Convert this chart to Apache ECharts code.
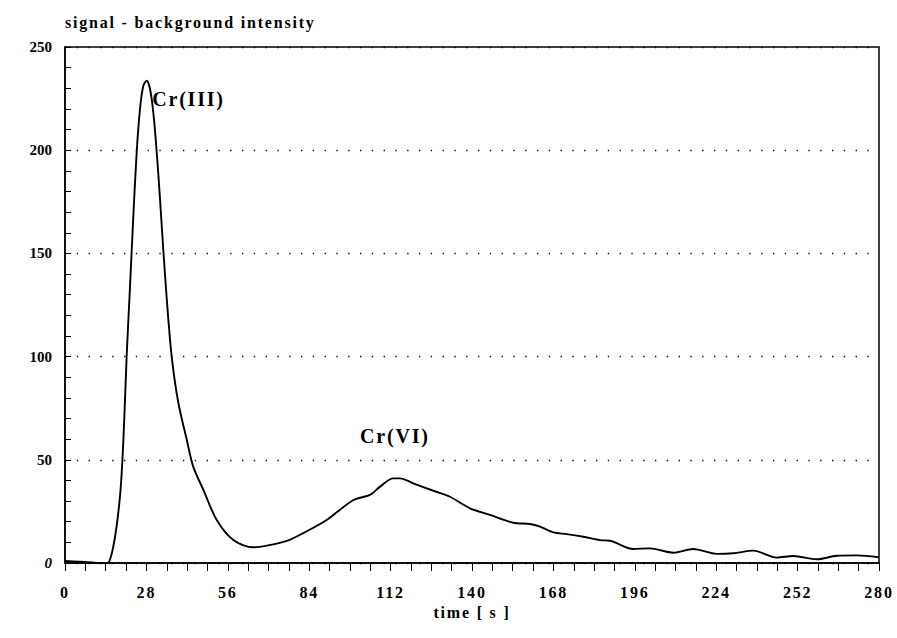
<!DOCTYPE html>
<html>
<head>
<meta charset="utf-8">
<script src="https://cdn.jsdelivr.net/npm/echarts@6/dist/echarts.min.js"></script>
<style>
  html, body { margin: 0; padding: 0; background: #fff; }
  #chart { width: 897px; height: 638px; }
  /* the scanned lettering is set wide, except the y tick numbers */
  #chart text { letter-spacing: 1.8px; }
  #chart text[text-anchor="end"] { letter-spacing: 0; }
</style>
</head>
<body>
<div id="chart"></div>
<script>
// time [s] and signal - background intensity
const times = [0, 5, 10, 14.3, 16.6, 18.9, 20.1, 21.2, 22.4, 23.5, 24.7, 25.8, 26.9, 28.1, 29.2, 30.4, 31.5, 32.7, 33.8, 35,
  36.7, 39, 41.9, 44.1, 47.6, 52.2, 57.9, 64.8, 69.4, 76.3, 82, 90, 99.2, 104.9, 108.4, 112.9, 115.2, 119.8, 126.7, 132.4,
  139.3, 146.2, 154.2, 160, 163.4, 168, 172.6, 178.3, 184, 187.5, 195.5, 201.2, 209.3, 216.1, 224.2, 229.9, 236.8, 244.8,
  250.5, 258.6, 265.5, 272.3, 280];
const intensity = [1, 0.6, 0.2, -0.5, 7.9, 32, 60, 100, 135, 168, 200, 220, 231, 233.7, 230, 218, 200, 176, 152, 128,
  100, 77.5, 59.6, 46.7, 35.4, 20.8, 11.1, 7.6, 8.4, 10.7, 14.5, 20.8, 30.5, 33, 37, 41, 41, 38.6, 35, 32.1,
  26.5, 23.3, 19.5, 18.9, 17.6, 14.8, 14, 12.7, 11.1, 10.8, 6.8, 7.1, 5, 6.8, 4.4, 4.7, 6, 2.6,
  3.4, 1.8, 3.5, 3.7, 2.8];
const xTicks = [0, 28, 56, 84, 112, 140, 168, 196, 224, 252, 280];
const yTicks = [0, 50, 100, 150, 200, 250];
const peakNames = ['Cr(III)', 'Cr(VI)'];
const peakLabelAt = [[30, 225], [101.5, 61.5]];

const serif = '"Liberation Serif", "DejaVu Serif", serif';
const chart = echarts.init(document.getElementById('chart'), null, { renderer: 'svg' });

const points = times.map((t, i) => [t, intensity[i]]);

chart.setOption({
  animation: false,
  backgroundColor: '#fff',
  grid: {
    left: 65, right: 18, top: 47, bottom: 75,
    show: true, borderColor: '#000', borderWidth: 1.5, backgroundColor: 'transparent'
  },
  xAxis: {
    type: 'value',
    min: xTicks[0],
    max: xTicks[xTicks.length - 1],
    interval: 28,
    name: 'time [ s ]',
    nameLocation: 'middle',
    nameGap: 40,
    nameTextStyle: { fontFamily: serif, fontWeight: 'bold', fontSize: 16, color: '#000' },
    axisLine: { onZero: false, lineStyle: { color: '#000', width: 1.5 } },
    axisTick: { inside: false, length: 8, lineStyle: { color: '#000' } },
    minorTick: { show: true, splitNumber: 4, length: 8, lineStyle: { color: '#000' } },
    axisLabel: { margin: 21, fontFamily: serif, fontWeight: 'bold', fontSize: 16, color: '#000' },
    splitLine: { show: false }
  },
  yAxis: {
    type: 'value',
    min: yTicks[0],
    max: yTicks[yTicks.length - 1],
    interval: 50,
    name: 'signal - background intensity',
    nameLocation: 'end',
    nameGap: 17,
    nameTextStyle: { fontFamily: serif, fontWeight: 'bold', fontSize: 16, color: '#000', align: 'left' },
    axisLine: { show: true, lineStyle: { color: '#000', width: 1.5 } },
    axisTick: { inside: true, length: 6, lineStyle: { color: '#000' } },
    minorTick: { show: true, splitNumber: 5, length: 6, lineStyle: { color: '#000' } },
    axisLabel: {
      margin: 13, fontFamily: serif, fontWeight: 'bold', fontSize: 15, color: '#000',
      formatter: v => (v === 0 ? '{i|0}' : String(v)),
      rich: { i: { fontFamily: serif, fontWeight: 'bold', fontStyle: 'italic', fontSize: 15, color: '#000' } }
    },
    splitLine: { show: true, lineStyle: { color: '#000', width: 1.3, type: [1.3, 10.5] } }
  },
  series: [{
    type: 'line',
    data: points,
    smooth: 0.3,
    showSymbol: false,
    lineStyle: { color: '#000', width: 1.9 },
    markPoint: {
      symbol: 'circle',
      symbolSize: 0,
      data: peakNames.map((n, i) => ({ name: n, coord: peakLabelAt[i] })),
      label: {
        show: true,
        position: 'right',
        distance: 0,
        formatter: p => p.name,
        fontFamily: serif,
        fontWeight: 'bold',
        fontSize: 20,
        color: '#000'
      }
    }
  }]
});
</script>
</body>
</html>
